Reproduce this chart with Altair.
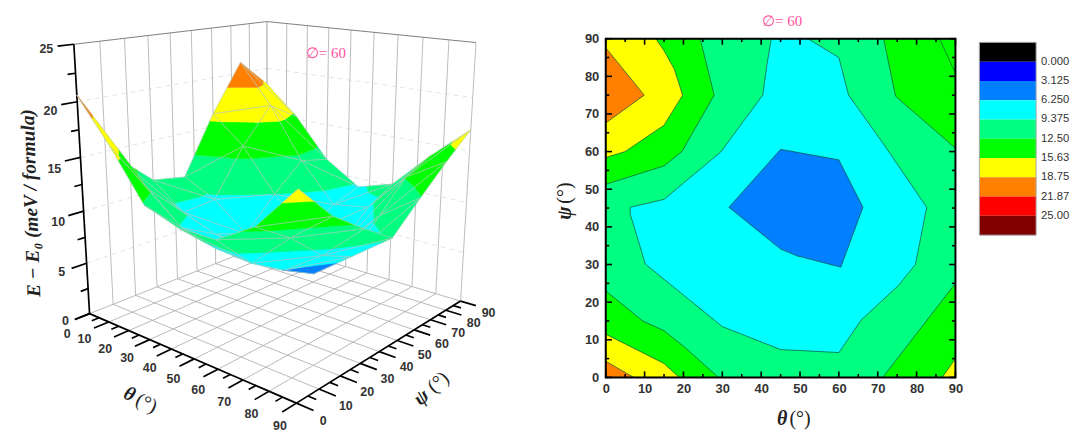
import altair as alt
import numpy as np
import pandas as pd

# ---------- data ----------
THETA_GRID = [0, 15, 30, 45, 60, 75, 90]
PSI_GRID = [0, 15, 30, 45, 60, 75, 90]
E_PSI_0 = [20.6, 16.7, 12.3, 11.2, 11.2, 13.2, 17.0]
E_PSI_15 = [14.1, 11.9, 9.2, 8.3, 8.0, 11.2, 13.9]
E_PSI_30 = [11.1, 8.7, 7.5, 6.7, 6.1, 8.5, 11.8]
E_PSI_45 = [10.5, 9.0, 6.4, 5.0, 4.5, 7.2, 9.9]
E_PSI_60 = [16.3, 13.6, 9.4, 6.3, 6.15, 9.9, 12.4]
E_PSI_75 = [21.1, 17.1, 12.0, 8.2, 8.8, 12.6, 14.8]
E_PSI_90 = [18.3, 15.3, 11.3, 9.1, 10.2, 13.8, 17.0]
E_ROWS = [E_PSI_0, E_PSI_15, E_PSI_30, E_PSI_45, E_PSI_60, E_PSI_75, E_PSI_90]

LEVELS = [0, 3.125, 6.25, 9.375, 12.5, 15.63, 18.75, 21.87, 25]
LEVEL_LABELS = ["0.000", "3.125", "6.250", "9.375", "12.50", "15.63", "18.75", "21.87", "25.00"]
BAND_COLORS = ["#000000", "#0000FF", "#0080FF", "#00FFFF", "#00FF80", "#00FF00", "#FFFF00", "#FF8000", "#FF0000", "#800000"]

SPRING, GREEN, YELLOW, ORANGE, CYAN, DODGER = "#00FF80", "#00FF00", "#FFFF00", "#FF8000", "#00FFFF", "#0080FF"
CONTOUR_POLYS = [
    (SPRING, [(0, 0), (90, 0), (90, 90), (0, 90)]),
    (GREEN, [(0, 51.3), (15, 56.2), (19.6, 60), (27.9, 75), (24.3, 90), (0, 90)]),
    (YELLOW, [(0, 58.4), (5, 60), (15, 67), (19.8, 75), (17.6, 82), (15, 86.8), (12.9, 90), (0, 90)]),
    (ORANGE, [(0, 87.6), (9.9, 75), (0, 67.6)]),
    (GREEN, [(71.5, 90), (74.6, 74.7), (90, 60.9), (90, 90)]),
    (GREEN, [(85.9, 90), (90, 80.8), (90, 90)]),
    (GREEN, [(71.3, 0), (90, 25), (90, 0)]),
    (YELLOW, [(86.6, 0), (90, 5), (90, 0)]),
    (GREEN, [(0, 23), (9.5, 15), (15, 12.4), (20, 8.3), (29, 0), (0, 0)]),
    (YELLOW, [(0, 11.5), (15, 3.7), (18.9, 0), (0, 0)]),
    (ORANGE, [(0, 4.3), (7.2, 0), (0, 0)]),
    (CYAN, [(42.6, 90), (41.5, 83.2), (40.4, 75), (29.6, 59.9), (15, 47.3), (6.3, 45.2), (6.3, 43.4),
            (10.2, 30.1), (30, 13.5), (45, 7.4), (60, 6.6), (65.7, 15.2), (75.3, 24.4), (79.7, 30),
            (82.6, 45.2), (71.5, 62), (62.5, 75), (60, 85), (52, 90)]),
    (DODGER, [(31.7, 45.2), (45, 60.6), (60, 57.8), (66.2, 45.2), (60.5, 29.3), (49.2, 32.3), (45, 34.1)]),
]

# corners of the 3-D box as seen on the page: (theta, psi, E) -> (px, py)
BOX_3D = [(0, 0, 0), (90, 0, 0), (90, 90, 0), (0, 90, 0), (0, 0, 25), (90, 90, 25), (0, 90, 25)]
BOX_2D = [(89.3, 314), (298.3, 403.3), (461.7, 302.3), (268.6, 242.7), (74, 44), (477.7, 41.3), (268, 21)]

LABEL_FONT = "Liberation Sans"
SERIF = "Liberation Serif"
INK = "#333333"
PINK = "#FF4FA0"
PHI_TEXT = "∅= 60"


# ---------- camera ----------
def fit_camera(world, image):
    rows = []
    for (a, b, c), (u, v) in zip(world, image):
        rows.append([a, b, c, 1, 0, 0, 0, 0, -u * a, -u * b, -u * c, -u])
        rows.append([0, 0, 0, 0, a, b, c, 1, -v * a, -v * b, -v * c, -v])
    _, _, vt = np.linalg.svd(np.array(rows, dtype=float))
    cam = vt[-1].reshape(3, 4)
    if cam[2] @ np.array([45, 45, 0, 1.0]) < 0:
        cam = -cam
    return cam


CAM = fit_camera(BOX_3D, BOX_2D)


def project(t, p, e):
    h = CAM @ np.array([t, p, e, 1.0])
    return float(h[0] / h[2]), float(h[1] / h[2]), float(h[2])


# ---------- surface: triangles split at the contour levels ----------
def clip_band(poly, lo, hi):
    def clip(pts, keep_above, lev):
        out = []
        for i in range(len(pts)):
            a, b = pts[i], pts[(i + 1) % len(pts)]
            ina = a[2] >= lev if keep_above else a[2] <= lev
            inb = b[2] >= lev if keep_above else b[2] <= lev
            if ina:
                out.append(a)
            if ina != inb:
                f = (lev - a[2]) / (b[2] - a[2])
                out.append(tuple(a[k] + f * (b[k] - a[k]) for k in range(3)))
        return out
    pts = clip(poly, True, lo)
    return clip(pts, False, hi) if pts else []


triangles = []
for j in range(len(PSI_GRID) - 1):
    for i in range(len(THETA_GRID) - 1):
        v = lambda a, b: (THETA_GRID[a], PSI_GRID[b], E_ROWS[b][a])
        q = [v(i, j), v(i + 1, j), v(i + 1, j + 1), v(i, j + 1)]
        triangles.append([q[0], q[1], q[2]])
        triangles.append([q[0], q[2], q[3]])
triangles.sort(key=lambda tri: -np.mean([project(*pt)[2] for pt in tri]))

bounds = [-100] + LEVELS + [100]
surface_rows = []
pid = 0
for tri in triangles:
    for b, col in enumerate(BAND_COLORS):
        part = clip_band(tri, bounds[b], bounds[b + 1])
        if len(part) >= 3:
            for k, pt in enumerate(part + [part[0]]):
                x, y, _ = project(*pt)
                surface_rows.append(dict(poly=pid, i=k, x=x, y=y, fill=col, stroke=col, sw=0.4))
            pid += 1
    for k, pt in enumerate(tri + [tri[0]]):
        x, y, _ = project(*pt)
        surface_rows.append(dict(poly=pid, i=k, x=x, y=y, fill="transparent", stroke="#b4c8c0", sw=0.6))
    pid += 1
surface_df = pd.DataFrame(surface_rows)


# ---------- box: grid lines, axes, ticks ----------
def seg(a, b, kind):
    ax, ay, _ = project(*a)
    bx, by, _ = project(*b)
    return dict(x=ax, y=ay, x2=bx, y2=by, kind=kind)


segs = []
TENS = list(range(0, 91, 10))
FIVES = list(range(0, 91, 5))
for t in TENS:
    segs.append(seg((t, 0, 0), (t, 90, 0), "floor"))
    segs.append(seg((0, t, 0), (90, t, 0), "floor"))
    segs.append(seg((t, 90, 0), (t, 90, 25), "wall"))
    if t > 0:
        segs.append(seg((0, t, 0), (0, t, 25), "wall"))
for e in [5, 10, 15, 20]:
    segs.append(seg((0, 0, e), (0, 90, e), "dash"))
    segs.append(seg((0, 90, e), (90, 90, e), "dash"))
segs.append(seg((0, 0, 25), (0, 90, 25), "top"))
segs.append(seg((0, 90, 25), (90, 90, 25), "top"))
segs.append(seg((0, 0, 0), (90, 0, 0), "axis"))
segs.append(seg((90, 0, 0), (90, 90, 0), "axis"))
segs.append(seg((0, 0, 0), (0, 0, 25), "axis"))
for t in FIVES:
    n = 6 if t % 10 == 0 else 3
    segs.append(seg((t, 0, 0), (t, -n, 0), "axis"))
    segs.append(seg((90, t, 0), (90 + n, t, 0), "axis"))
for z in [0, 2.5, 5, 7.5, 10, 12.5, 15, 17.5, 20, 22.5, 25]:
    n = 6 if z % 5 == 0 else 3
    segs.append(seg((0, 0, z), (0, -n, z), "axis"))
seg_df = pd.DataFrame(segs)

labels = []
Z_NUDGE = {0: -6, 5: -3, 10: 1, 15: 3, 20: 3, 25: 0}
for t in TENS:
    x, y, _ = project(t, -9, 0)
    labels.append(dict(x=x - 3 + 8 * t / 90 + (3 if t == 0 else 0),
                       y=y + 8 + 2 * t / 90 + (4 if t == 0 else 0), text=str(t)))
    x, y, _ = project(90 + 12, t, 0)
    labels.append(dict(x=x - 8 + 5 * t / 90, y=y + 3, text=str(t)))
for z in [0, 5, 10, 15, 20, 25]:
    x, y, _ = project(0, -12.5, z)
    labels.append(dict(x=x + 7, y=y + 0.5 + Z_NUDGE[z], text=str(z)))
label_df = pd.DataFrame(labels)

X3 = alt.Scale(domain=[8, 584], nice=False, zero=False)
Y3 = alt.Scale(domain=[38, 378], reverse=True, nice=False, zero=False)
xq = alt.X("x:Q", scale=X3, axis=None)
yq = alt.Y("y:Q", scale=Y3, axis=None)


def rules(kind, **style):
    return alt.Chart(seg_df[seg_df.kind == kind]).mark_rule(**style).encode(xq, yq, x2="x2:Q", y2="y2:Q")


def free_text(text, px, py, size, font=SERIF, weight="normal", style="normal", angle=0, color="#222222", base=38, left=8):
    return alt.Chart(pd.DataFrame({"t": [text]})).mark_text(
        font=font, fontSize=size, fontWeight=weight, fontStyle=style, angle=angle % 360, color=color,
        align="center", baseline="middle"
    ).encode(x=alt.value(px - left), y=alt.value(py - base), text="t:N")


left = alt.layer(
    rules("floor", color="#a8a8a8", strokeWidth=0.8),
    rules("dash", color="#e4e4e4", strokeWidth=1, strokeDash=[5, 4]),
    rules("wall", color="#bdbdbd", strokeWidth=1),
    rules("top", color="#808080", strokeWidth=1),
    rules("axis", color="#000000", strokeWidth=1.7),
    alt.Chart(surface_df).mark_line(interpolate="linear").encode(
        xq, yq,
        detail="poly:N",
        order=alt.Order("i:Q"),
        fill=alt.Fill("fill:N", scale=None),
        stroke=alt.Stroke("stroke:N", scale=None),
        strokeWidth=alt.StrokeWidth("sw:Q", scale=None),
    ),
    alt.Chart(label_df).mark_text(font=LABEL_FONT, fontSize=12.5, fontWeight="bold", color=INK).encode(xq, yq, text="text:N"),
    alt.Chart(pd.DataFrame({"a": [0]})).mark_rule(opacity=0).encode(x=alt.value(0), y=alt.value(-30), y2=alt.value(0)),
    free_text("E − E₀ (meV / formula)", 31, 203, 19.5, weight="bold", style="italic", angle=268),
    free_text(PHI_TEXT, 327, 52, 15, color=PINK),
    free_text("θ", 130, 395, 20, weight="bold", style="italic", angle=25),
    free_text("(°)", 147, 404, 20, angle=25),
    free_text("ψ", 423, 398, 20, weight="bold", style="italic", angle=-40),
    free_text("(°)", 440, 383, 20, angle=-40),
).properties(width=576, height=340)

# ---------- contour panel ----------
contour_rows = []
for n, (col, pts) in enumerate(CONTOUR_POLYS):
    for k, (t, p) in enumerate(pts + [pts[0]]):
        contour_rows.append(dict(poly=n, i=k, theta=t, psi=p, fill=col))
contour_df = pd.DataFrame(contour_rows)

XC = alt.Scale(domain=[0, 90], nice=False, zero=False)
YC = alt.Scale(domain=[0, 90], nice=False, zero=False)
x_axis = alt.Axis(values=TENS, ticks=False, domain=False, grid=False, title=None, labelFont=LABEL_FONT,
                  labelFontSize=13, labelFontWeight="bold", labelColor=INK, labelPadding=5, labelAngle=0,
                  labelFlush=False, labelOverlap=False)
y_axis = alt.Axis(values=TENS, ticks=False, domain=False, grid=False, title=None, labelFont=LABEL_FONT,
                  labelFontSize=13, labelFontWeight="bold", labelColor=INK, labelPadding=7,
                  labelFlush=False, labelOverlap=False)

tick_rows = []
for v in FIVES:
    n = 1.6 if v % 10 == 0 else 0.9
    tick_rows += [dict(a=v, b=0, a2=v, b2=n), dict(a=v, b=90, a2=v, b2=90 - n),
                  dict(a=0, b=v, a2=n, b2=v), dict(a=90, b=v, a2=90 - n, b2=v)]
tick_df = pd.DataFrame(tick_rows)

right = alt.layer(
    alt.Chart(contour_df).mark_line(stroke="#17503c", strokeWidth=0.7, interpolate="linear").encode(
        alt.X("theta:Q", scale=XC, axis=x_axis),
        alt.Y("psi:Q", scale=YC, axis=y_axis),
        detail="poly:N",
        order=alt.Order("i:Q"),
        fill=alt.Fill("fill:N", scale=None),
    ),
    alt.Chart(tick_df).mark_rule(color="black", strokeWidth=1.6).encode(
        alt.X("a:Q", scale=XC, axis=x_axis), alt.Y("b:Q", scale=YC, axis=y_axis), x2="a2:Q", y2="b2:Q"),
    alt.Chart(pd.DataFrame({"a": [0], "a2": [90], "b": [0], "b2": [90]})).mark_rect(
        fillOpacity=0, stroke="black", strokeWidth=2).encode(
        alt.X("a:Q", scale=XC, axis=x_axis), alt.Y("b:Q", scale=YC, axis=y_axis), x2="a2:Q", y2="b2:Q"),
    free_text(PHI_TEXT, 785, 20, 15, color=PINK, left=608),
    free_text("θ", 785, 420, 20, weight="bold", style="italic", left=608),
    free_text("(°)", 803, 420, 20, left=608),
    free_text("ψ", 567, 213, 20, weight="bold", style="italic", angle=-90, left=608),
    free_text("(°)", 567, 193, 20, angle=-90, left=608),
).properties(width=351, height=340)

# ---------- colour key ----------
key_df = pd.DataFrame({"lo": list(range(10)), "hi": list(range(1, 11)), "c": BAND_COLORS})
key_txt = pd.DataFrame({"pos": list(range(1, 10)), "text": LEVEL_LABELS})
YK = alt.Scale(domain=[-0.19, 17.38], reverse=True, nice=False, zero=False)
key = alt.layer(
    alt.Chart(key_df).mark_rect().encode(
        x=alt.value(0), x2=alt.value(57),
        y=alt.Y("lo:Q", scale=YK, axis=None), y2="hi:Q",
        fill=alt.Fill("c:N", scale=None)),
    alt.Chart(pd.DataFrame({"lo": [0], "hi": [10]})).mark_rect(fillOpacity=0, stroke="#aaaaaa", strokeWidth=1).encode(
        x=alt.value(0), x2=alt.value(57),
        y=alt.Y("lo:Q", scale=YK, axis=None), y2="hi:Q"),
    alt.Chart(key_txt).mark_text(font=LABEL_FONT, fontSize=11.3, color="#333333", align="left", baseline="middle").encode(
        x=alt.value(62), y=alt.Y("pos:Q", scale=YK, axis=None), text="text:N"),
).properties(width=57, height=340)

chart = alt.hconcat(left, right, key, spacing=24, bounds="flush").resolve_scale(
    x="independent", y="independent"
).configure_view(stroke=None).properties(padding=0, background="white")

chart.save("out.html", embed_options={"renderer": "svg", "actions": False})
